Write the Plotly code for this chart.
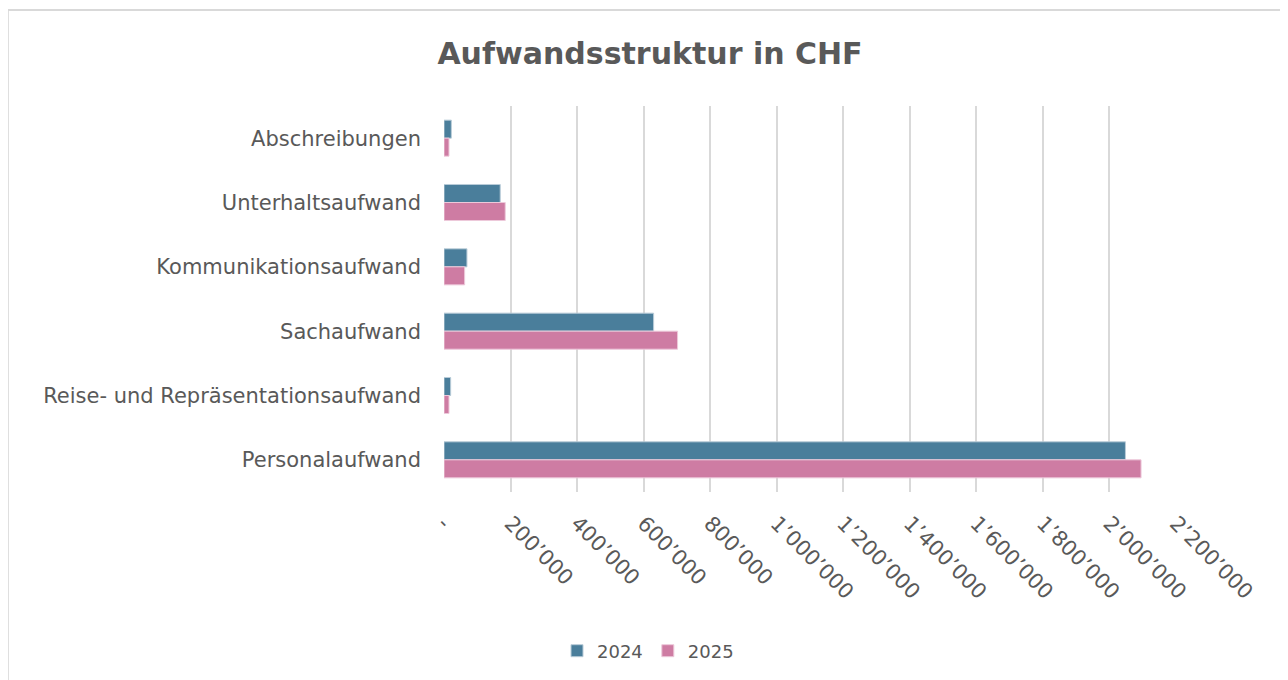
import plotly.graph_objects as go

categories = ["Abschreibungen", "Unterhaltsaufwand", "Kommunikationsaufwand",
              "Sachaufwand", "Reise- und Repräsentationsaufwand", "Personalaufwand"]
values_2024 = [22000, 169000, 69000, 630000, 20000, 2048000]
values_2025 = [15000, 184000, 62000, 702000, 15000, 2095000]
tick_vals = [0, 200000, 400000, 600000, 800000, 1000000, 1200000,
             1400000, 1600000, 1800000, 2000000, 2200000]
tick_text = ["-", "200’000", "400’000", "600’000", "800’000", "1’000’000", "1’200’000",
             "1’400’000", "1’600’000", "1’800’000", "2’000’000", "2’200’000"]

# page body has an 8px margin: figure pixel = reference pixel - 8
OFF = 8
W, H = 1280, 672
L, R, T, B = 444 - OFF, 1175.7 - OFF, 106 - OFF, 492 - OFF
pw, ph = R - L, B - T

FONT = "DejaVu Sans"
GREY = "#595959"

fig = go.Figure()
fig.add_trace(go.Bar(y=categories, x=values_2024, name="2024", orientation="h",
                     marker=dict(color="#4A7E9B", line=dict(color="#B9CCD8", width=1))))
fig.add_trace(go.Bar(y=categories, x=values_2025, name="2025", orientation="h",
                     marker=dict(color="#CE7CA3", line=dict(color="#EDC9DA", width=1))))

fig.update_layout(
    width=W, height=H,
    margin=dict(l=L, r=W - R, t=T, b=H - B, pad=0),
    paper_bgcolor="white", plot_bgcolor="white",
    barmode="group", bargap=0.44, bargroupgap=0,
    font=dict(family=FONT, color=GREY, size=20),
    title=dict(text="<b>Aufwandsstruktur in CHF</b>", x=(650 - OFF) / W, xanchor="center",
               y=1 - (53 - OFF) / H, yanchor="middle", xref="container", yref="container",
               font=dict(family=FONT, size=30, color=GREY)),
    legend=dict(orientation="h", xref="container", yref="container",
                x=(648 - OFF) / W, xanchor="center", y=1 - (651 - OFF) / H, yanchor="middle",
                font=dict(size=18, color=GREY), itemwidth=30, traceorder="normal"),
    xaxis=dict(range=[0, 2200000], tickvals=tick_vals, ticktext=tick_text,
               tickangle=45, showgrid=True, gridcolor="#D9D9D9", gridwidth=2,
               zeroline=False, showline=False, ticks="", ticklabelstandoff=14,
               tickfont=dict(size=21, color=GREY)),
    yaxis=dict(autorange="reversed", showgrid=False, zeroline=False, showline=False,
               ticks="", ticklabelstandoff=22, tickfont=dict(size=21, color=GREY)),
    shapes=[dict(type="rect", xref="paper", yref="paper",
                 x0=(8 - OFF - L) / pw, x1=(1300 - L) / pw,
                 y0=(B - 700) / ph, y1=(B - (10 - OFF)) / ph,
                 line=dict(color="#D9D9D9", width=2), fillcolor="rgba(0,0,0,0)",
                 layer="below")],
)

fig.write_html("out.html")
